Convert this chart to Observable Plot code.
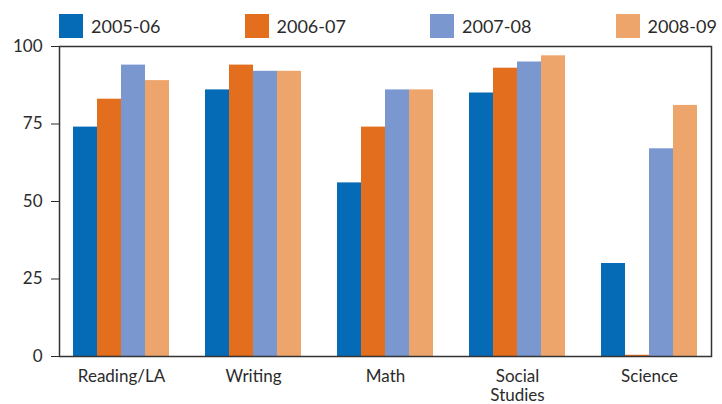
<!DOCTYPE html>
<html>
<head>
<meta charset="utf-8">
<script src="https://cdn.jsdelivr.net/npm/d3@7"></script>
<script src="https://cdn.jsdelivr.net/npm/@observablehq/plot@0.6"></script>
<style>
  html, body { margin: 0; padding: 0; background: #fff; }
  body { width: 722px; height: 404px; overflow: hidden; font-family: Lato, "Open Sans", sans-serif; color: #2b2b2b; }
  #legend { height: 34px; display: flex; padding-left: 59px; box-sizing: border-box; padding-top: 14px; }
  .item { width: 185.5px; display: flex; align-items: center; font-size: 18px; height: 24px; flex: none; }
  .sw { width: 24px; height: 24px; margin-right: 8px; flex: none; }
  #chart svg { overflow: visible; }
</style>
</head>
<body>
<div id="legend"></div>
<div id="chart"></div>
<script>
const categories = ["Reading/LA", "Writing", "Math", "Social\nStudies", "Science"];
const years = ["2005-06", "2006-07", "2007-08", "2008-09"];
const colors = ["#066bb6", "#e26e1e", "#7a98cf", "#eea56c"];
const v2005 = [74, 86, 56, 85, 30];
const v2006 = [83, 94, 74, 93, 0.4];
const v2007 = [94, 92, 86, 95, 67];
const v2008 = [89, 92, 86, 97, 81];
const yTicks = [0, 25, 50, 75, 100];

const series = [v2005, v2006, v2007, v2008];
const barW = 24; // width of one bar inside a 96px group band

const plot = Plot.plot({
  width: 722,
  height: 370,
  marginTop: 12,
  marginBottom: 48,
  marginLeft: 59,
  marginRight: 11,
  style: {fontFamily: "Lato, 'Open Sans', sans-serif", fontSize: "17px", color: "#2b2b2b", background: "transparent", overflow: "visible"},
  x: {domain: categories, paddingInner: 0.2727, paddingOuter: 0.106, axis: null},
  y: {domain: [0, 100], ticks: yTicks, tickSize: 8, tickPadding: 9, label: null, tickFormat: d => String(d)},
  color: {domain: years, range: colors},
  marks: [
    ...years.map((yr, j) => Plot.barY(categories.map((c, i) => ({category: c, year: yr, value: series[j][i]})), {
      x: "category", y: "value", fill: "year",
      insetLeft: barW * j, insetRight: barW * (years.length - 1 - j)
    })),
    Plot.text(categories, {x: d => d, text: d => d, frameAnchor: "bottom", lineAnchor: "top", dy: 12, fontSize: 17, lineHeight: 1.12, fill: "#2b2b2b"}),
    Plot.frame({stroke: "#333", strokeWidth: 1.5})
  ]
});
document.getElementById("chart").appendChild(plot);

const legend = document.getElementById("legend");
years.forEach((y, j) => {
  const it = document.createElement("div");
  it.className = "item";
  const sw = document.createElement("div");
  sw.className = "sw";
  sw.style.background = plot.scale("color").apply(y);
  const t = document.createElement("span");
  t.textContent = y;
  it.appendChild(sw); it.appendChild(t);
  legend.appendChild(it);
});
</script>
</body>
</html>
